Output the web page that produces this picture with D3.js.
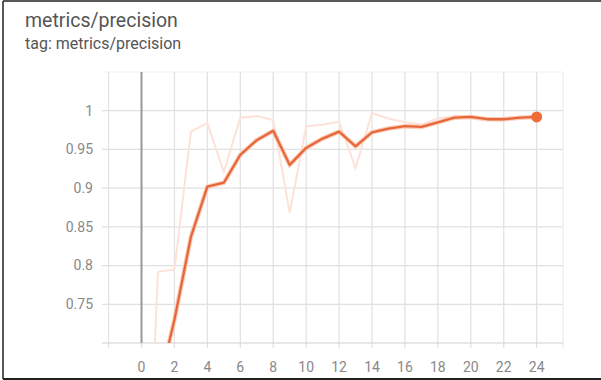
<!DOCTYPE html>
<html>
<head>
<meta charset="utf-8">
<script src="https://cdn.jsdelivr.net/npm/d3@7"></script>
<style>
  body { margin: 0; background: #fff; }
  text { font-family: Roboto, "Noto Sans", sans-serif; }
</style>
</head>
<body>
<svg width="601" height="380"></svg>
<script>
// Chart values
const steps = d3.range(0, 25);
const rawPrecision = [0.30, 0.792, 0.795, 0.973, 0.984, 0.921, 0.991, 0.993, 0.988, 0.868,
                      0.980, 0.982, 0.986, 0.926, 0.997, 0.990, 0.985, 0.982, 0.990, 0.993,
                      0.993, 0.988, 0.989, 0.992, 0.992];
const smoothedPrecision = [0.30, 0.64, 0.730, 0.837, 0.902, 0.907, 0.943, 0.962, 0.974, 0.930,
                           0.952, 0.964, 0.973, 0.954, 0.972, 0.977, 0.980, 0.979, 0.985, 0.991,
                           0.992, 0.989, 0.989, 0.991, 0.992];
const xTicks = d3.range(0, 25, 2);
const yTicks = [0.75, 0.8, 0.85, 0.9, 0.95, 1];

const width = 601;
const height = 380;
const margin = {top: 72, right: 38, bottom: 37, left: 102};
const svg = d3.select("svg");

// frame lines of the screenshot
svg.append("line").attr("x1", 3).attr("x2", 3).attr("y1", 1).attr("y2", 379)
  .attr("stroke", "#222").attr("stroke-width", 1.5);
svg.append("line").attr("x1", 3).attr("x2", width).attr("y1", 1).attr("y2", 1)
  .attr("stroke", "#222").attr("stroke-width", 1.5);
svg.append("line").attr("x1", 3).attr("x2", width).attr("y1", 379).attr("y2", 379)
  .attr("stroke", "#222").attr("stroke-width", 2);

// Titles
svg.append("text")
  .text("metrics/precision")
  .attr("x", 25).attr("y", 27)
  .attr("fill", "#555")
  .style("font-size", "19.5px");

svg.append("text")
  .text("tag: metrics/precision")
  .attr("x", 25).attr("y", 49)
  .attr("fill", "#555")
  .style("font-size", "16px");

const xScale = d3.scaleLinear()
                 .domain([-2.4, 25.6])
                 .range([margin.left, width - margin.right]);

const yScale = d3.scaleLinear()
                 .domain([0.7, 1.05])
                 .range([height - margin.bottom, margin.top]);

// grid
const gridX = d3.range(-2, 25, 2);
svg.append("g")
  .selectAll("line")
  .data(gridX)
  .enter().append("line")
    .attr("x1", d => xScale(d)).attr("x2", d => xScale(d))
    .attr("y1", yScale(1.05)).attr("y2", yScale(0.7) + 5)
    .attr("stroke", "#e0e0e0").attr("stroke-width", 1.2);

svg.append("g")
  .selectAll("line")
  .data(yTicks)
  .enter().append("line")
    .attr("x1", xScale.range()[0]).attr("x2", xScale.range()[1])
    .attr("y1", d => yScale(d)).attr("y2", d => yScale(d))
    .attr("stroke", "#e0e0e0").attr("stroke-width", 1.2);

// faint top and right edges
svg.append("line")
  .attr("x1", xScale.range()[0]).attr("x2", xScale.range()[1])
  .attr("y1", yScale(1.05)).attr("y2", yScale(1.05))
  .attr("stroke", "#f0f0f0");
svg.append("line")
  .attr("x1", xScale.range()[1]).attr("x2", xScale.range()[1])
  .attr("y1", yScale(1.05)).attr("y2", yScale(0.7) + 5)
  .attr("stroke", "#e6e6e6");

// bottom axis line
svg.append("line")
  .attr("x1", xScale.range()[0]).attr("x2", xScale.range()[1])
  .attr("y1", yScale(0.7)).attr("y2", yScale(0.7))
  .attr("stroke", "#d2d2d2").attr("stroke-width", 1.2);

// zero line
svg.append("line")
  .attr("x1", xScale(0)).attr("x2", xScale(0))
  .attr("y1", yScale(1.05)).attr("y2", yScale(0.7))
  .attr("stroke", "#9a9a9a").attr("stroke-width", 2);

// Tick labels
svg.append("g")
  .selectAll("text")
  .data(yTicks)
  .enter().append("text")
    .text(d => d3.format("")(d))
    .attr("x", 93)
    .attr("y", d => yScale(d))
    .attr("dy", "0.35em")
    .attr("fill", "#888")
    .style("text-anchor", "end")
    .style("font-size", "14px");

svg.append("g")
  .selectAll("text")
  .data(xTicks)
  .enter().append("text")
    .text(d => d)
    .attr("x", d => xScale(d))
    .attr("y", 372)
    .attr("fill", "#888")
    .style("text-anchor", "middle")
    .style("font-size", "14px");

// Lines, clipped to the plot
svg.append("clipPath").attr("id", "plot")
  .append("rect")
    .attr("x", xScale.range()[0]).attr("y", margin.top - 10)
    .attr("width", xScale.range()[1] - xScale.range()[0])
    .attr("height", yScale(0.7) - margin.top + 10);

const line = d3.line()
  .x((d, i) => xScale(steps[i]))
  .y(d => yScale(d));

const plot = svg.append("g").attr("clip-path", "url(#plot)");

plot.append("path")
  .datum(rawPrecision)
  .attr("d", line)
  .attr("fill", "none")
  .attr("stroke", "#fce2d8")
  .attr("stroke-width", 2);

plot.append("path")
  .datum(smoothedPrecision)
  .attr("d", line)
  .attr("fill", "none")
  .attr("stroke", "#fbcdb8")
  .attr("stroke-width", 4.5);

plot.append("path")
  .datum(smoothedPrecision)
  .attr("d", line)
  .attr("fill", "none")
  .attr("stroke", "#e8673a")
  .attr("stroke-width", 2.3)
  .attr("stroke-linejoin", "round");

// final point marker
const last = steps.length - 1;
svg.append("circle")
  .attr("cx", xScale(steps[last]))
  .attr("cy", yScale(smoothedPrecision[last]))
  .attr("r", 5.5)
  .attr("fill", "#ef6c38");
</script>
</body>
</html>
